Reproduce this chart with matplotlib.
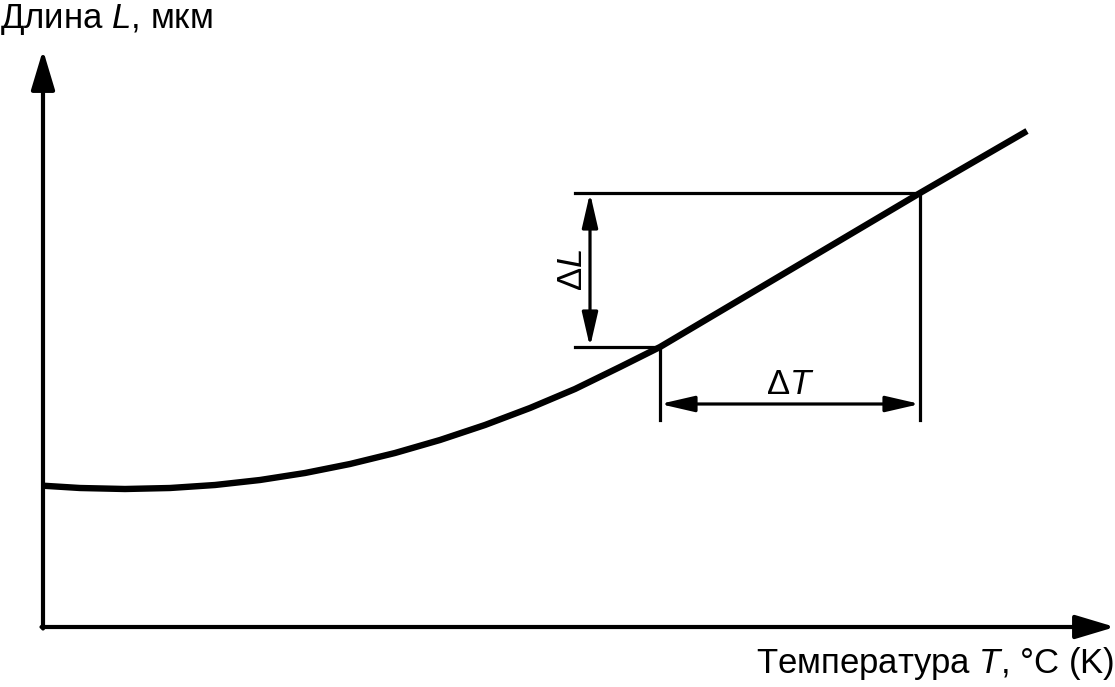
import matplotlib
matplotlib.use("Agg")
import matplotlib.pyplot as plt

plt.rcParams['font.family'] = ['Liberation Sans', 'DejaVu Sans']
plt.rcParams['mathtext.fontset'] = 'custom'
plt.rcParams['mathtext.it'] = 'Liberation Sans:italic'
plt.rcParams['mathtext.rm'] = 'Liberation Sans'

# Curve L(T), in drawing units (origin at the axes corner)
T_vals = [0, 37, 82, 127, 172, 217, 262, 307, 352, 397, 442, 487, 532, 577, 617, 747, 877, 984]
L_vals = [141.3, 139, 138, 139, 142, 147, 154, 163, 174, 187, 202, 219, 238, 260, 280, 357, 434, 496]

# Interval used for ΔL / ΔT
T1, T2 = 617, 877
L1, L2 = 280, 434

y_label = "Длина $\\mathit{L}$, мкм"
x_label = "Температура $\\mathit{T}$, °C (K)"

fig = plt.figure(figsize=(11.15, 6.87), dpi=100)
ax = fig.add_axes([0, 0, 1, 1])
ax.set_xlim(-43, 1072)
ax.set_ylim(-60, 627)
ax.axis('off')

# axes with arrows
ax.annotate('', xy=(1072, 0), xytext=(-1.5, 0),
            arrowprops=dict(arrowstyle='-|>,head_length=1.1,head_width=0.33',
                            mutation_scale=22, lw=3, color='black',
                            shrinkA=0, shrinkB=0))
ax.annotate('', xy=(0, 577), xytext=(0, -1.5),
            arrowprops=dict(arrowstyle='-|>,head_length=1.1,head_width=0.33',
                            mutation_scale=22, lw=3, color='black',
                            shrinkA=0, shrinkB=0))

# curve
ax.plot(T_vals, L_vals, color='black', lw=4.6, solid_capstyle='butt', solid_joinstyle='round')

lw_dim = 2.3
# extension lines
ax.plot([532, T2], [L2, L2], color='black', lw=lw_dim)
ax.plot([532, T1], [L1, L1], color='black', lw=lw_dim)
ax.plot([T1, T1], [L1, 207], color='black', lw=lw_dim)
ax.plot([T2, T2], [L2, 207], color='black', lw=lw_dim)

# dimension arrows
ax.annotate('', xy=(547, L2), xytext=(547, L1),
            arrowprops=dict(arrowstyle='<|-|>,head_length=1.3,head_width=0.3',
                            mutation_scale=16, lw=lw_dim, color='black',
                            shrinkA=0, shrinkB=0))
ax.annotate('', xy=(T2, 223), xytext=(T1, 223),
            arrowprops=dict(arrowstyle='<|-|>,head_length=1.3,head_width=0.3',
                            mutation_scale=16, lw=lw_dim, color='black',
                            shrinkA=0, shrinkB=0))

ax.text(529, 357, "Δ$\\mathit{L}$", rotation=90, ha='center', va='center', fontsize=25)
ax.text(747, 243, "Δ$\\mathit{T}$", ha='center', va='center', fontsize=25)

fig.text(0.0, 0.997, y_label, ha='left', va='top', fontsize=25)
fig.text(0.999, 0.007, x_label, ha='right', va='bottom', fontsize=25)

fig.savefig('out.png', dpi=100)
